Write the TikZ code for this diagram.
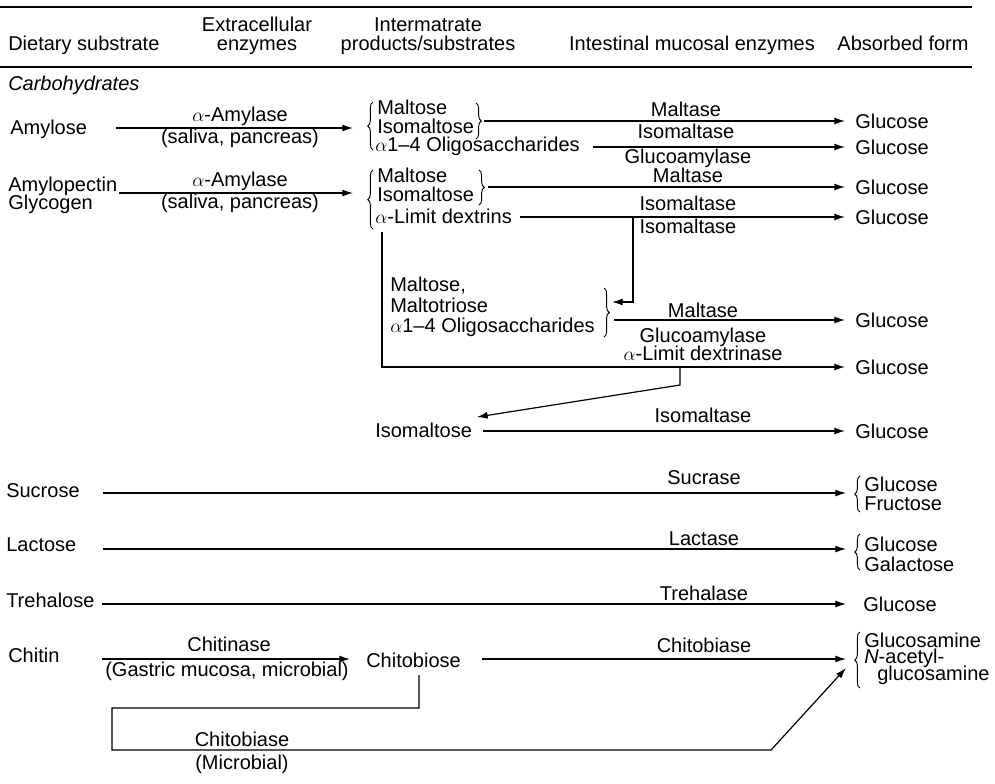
\documentclass[tikz,border=0pt]{standalone}
\usepackage{fontspec}
\setmainfont{Liberation Sans}
\usetikzlibrary{arrows.meta,decorations.pathreplacing}
\begin{document}
\begin{tikzpicture}[x=0.75pt,y=-0.75pt,
  txt/.style={inner sep=0pt, font=\fontsize{15pt}{18pt}\selectfont},
  lt/.style={txt, anchor=base west},
  ct/.style={txt, anchor=base},
  gl/.style={txt, anchor=base west, inner xsep=7.5pt},
  arr/.style={line width=0.9pt, -{Latex[length=8pt,width=5.2pt]}},
  brc/.style={line width=0.7pt, decorate, decoration={brace, amplitude=#1}},
  brc/.default=4pt,
  rulethick/.style={line width=1.5pt},
  rulethin/.style={line width=1.1pt}]
\useasboundingbox (0,0) rectangle (995,783);

% header
\draw[rulethick] (0,7) -- (972,7);
\draw[rulethin] (0,67) -- (972,67);
\node[lt] (h1) at (8,50) {Dietary substrate};
\node[ct] (h2a) at (257,31) {Extracellular};
\node[ct] (h2b) at (257,50) {enzymes};
\node[ct] (h3a) at (428,31) {Intermatrate};
\node[ct] (h3b) at (428,50) {products/substrates};
\node[ct] (h4) at (692,50) {Intestinal mucosal enzymes};
\node[ct] (h5) at (903,50) {Absorbed form};
\node[lt] (carb) at (8,90) {\itshape Carbohydrates};

% row 1: amylose
\node[lt] (amylose) at (10,134) {Amylose};
\coordinate (s1) at (116,128);
\coordinate (lb1) at (353,128);
\draw[arr] (s1) -- (lb1);
\node[ct] (amy1) at (240,121) {$\alpha$-Amylase};
\node[ct] (sal1) at (240,143) {(saliva, pancreas)};
\draw[brc] (373,150) -- (373,102);
\node[lt] (m1) at (377,114) {Maltose};
\node[lt] (i1) at (377,133) {Isomaltose};
\node[lt] (o1) at (375,151) {$\alpha$1--4 Oligosaccharides};
\draw[brc] (476,103) -- (476,139);
\coordinate (rb1) at (484,121);
\node[gl] (g1) at (845,128) {Glucose};
\node[gl] (g2) at (845,154) {Glucose};
\draw[arr] (rb1) -- (rb1 -| g1.west);
\coordinate (o1e) at (593,147);
\draw[arr] (o1e) -- (o1e -| g2.west);
\node[ct] (mt1) at (686,116) {Maltase};
\node[ct] (im1) at (686,138) {Isomaltase};
\node[ct] (ga1) at (688,163) {Glucoamylase};

% row 2: amylopectin
\node[lt] (amylopectin) at (8,191) {Amylopectin};
\node[lt] (glycogen) at (8,209) {Glycogen};
\coordinate (s2) at (119,193);
\coordinate (lb2) at (353,193);
\draw[arr] (s2) -- (lb2);
\node[ct] (amy2) at (240,186) {$\alpha$-Amylase};
\node[ct] (sal2) at (240,208) {(saliva, pancreas)};
\draw[brc] (373,229) -- (373,170);
\node[lt] (m2) at (377,182) {Maltose};
\node[lt] (i2) at (377,201) {Isomaltose};
\node[lt] (ld) at (375,223) {$\alpha$-Limit dextrins};
\draw[brc] (479,170) -- (479,205);
\coordinate (rb2) at (488,187);
\node[gl] (g3) at (845,194) {Glucose};
\node[gl] (g4) at (845,224) {Glucose};
\draw[arr] (rb2) -- (rb2 -| g3.west);
\coordinate (lde) at (520,217);
\draw[arr] (lde) -- (lde -| g4.west);
\node[ct] (mt2) at (688,182) {Maltase};
\node[ct] (im2) at (688,210) {Isomaltase};
\node[ct] (im3) at (688,233) {Isomaltase};

% branch from isomaltase line to the maltose/maltotriose group
\coordinate (d1) at (633,217);
\coordinate (d1b) at (633,302);
\coordinate (b3tip) at (612,302);
\draw[arr] (d1) -- (d1b) -- (b3tip);
\node[lt] (m3) at (390,291) {Maltose,};
\node[lt] (mt3) at (390,312) {Maltotriose};
\node[lt] (o3) at (390,332) {$\alpha$1--4 Oligosaccharides};
\draw[brc] (604,288) -- (604,337);
\coordinate (b3out) at (614,320);
\node[gl] (g5) at (845,327) {Glucose};
\draw[arr] (b3out) -- (b3out -| g5.west);
\node[ct] (mt4) at (703,317) {Maltase};
\node[ct] (ga2) at (703,342) {Glucoamylase};
\node[ct] (ldx) at (703,360) {$\alpha$-Limit dextrinase};

% long branch from alpha-limit dextrins
\coordinate (v1top) at (382,232);
\coordinate (v1bot) at (382,367);
\node[gl] (g6) at (845,374) {Glucose};
\draw[arr] (v1top) -- (v1bot) -- (v1bot -| g6.west);

% isomaltose
\coordinate (d2) at (680,367);
\coordinate (d2b) at (680,385);
\node[lt] (iso) at (375,437) {Isomaltose};
\coordinate (isotip) at (477,417);
\draw[arr] (d2) -- (d2b) -- (isotip);
\coordinate (isoe) at (483,431);
\node[gl] (g7) at (845,438) {Glucose};
\draw[arr] (isoe) -- (isoe -| g7.west);
\node[ct] (im4) at (703,422) {Isomaltase};

% sucrose
\node[lt] (sucrose) at (6,497) {Sucrose};
\coordinate (s4) at (103,493);
\coordinate (e4) at (846,493);
\draw[arr] (s4) -- (e4);
\node[ct] (sucrase) at (704,484) {Sucrase};
\draw[brc=4pt] (860,512) -- (860,476);
\node[lt] (gs) at (864,491) {Glucose};
\node[lt] (fr) at (864,510) {Fructose};

% lactose
\node[lt] (lactose) at (6,551) {Lactose};
\coordinate (s5) at (103,549);
\coordinate (e5) at (846,549);
\draw[arr] (s5) -- (e5);
\node[ct] (lactase) at (704,545) {Lactase};
\draw[brc=4pt] (860,570) -- (860,534);
\node[lt] (gl2) at (864,551) {Glucose};
\node[lt] (ga) at (864,571) {Galactose};

% trehalose
\node[lt] (trehalose) at (6,607) {Trehalose};
\coordinate (s6) at (102,604);
\coordinate (e6) at (846,604);
\draw[arr] (s6) -- (e6);
\node[ct] (trehalase) at (704,600) {Trehalase};
\node[lt] (gt) at (863,611) {Glucose};

% chitin
\node[lt] (chitin) at (8,662) {Chitin};
\coordinate (s7) at (102,659);
\coordinate (e7) at (350,659);
\draw[arr] (s7) -- (e7);
\node[ct] (chitinase) at (229,651) {Chitinase};
\node[ct] (gastric) at (227,676) {(Gastric mucosa, microbial)};
\node[lt] (chitobiose) at (366,667) {Chitobiose};
\coordinate (s8) at (482,659);
\coordinate (e8) at (846,659);
\draw[arr] (s8) -- (e8);
\node[ct] (chitobiase) at (704,652) {Chitobiase};
\draw[brc=4pt] (860,688) -- (860,632);
\node[lt] (gla) at (864,647) {Glucosamine};
\node[lt] (nac) at (864,663) {\textit{N}-acetyl-};
\node[lt] (glb) at (877,680) {glucosamine};

% microbial route
\coordinate (c1) at (419,675);
\coordinate (c2) at (419,708);
\coordinate (c3) at (112,708);
\coordinate (c4) at (112,750);
\coordinate (c5) at (771,750);
\coordinate (c6) at (846,668);
\draw[arr] (c1) -- (c2) -- (c3) -- (c4) -- (c5) -- (c6);
\node[ct] (chitobiase2) at (242,746) {Chitobiase};
\node[ct] (microbial) at (242,769) {(Microbial)};
\end{tikzpicture}
\end{document}
